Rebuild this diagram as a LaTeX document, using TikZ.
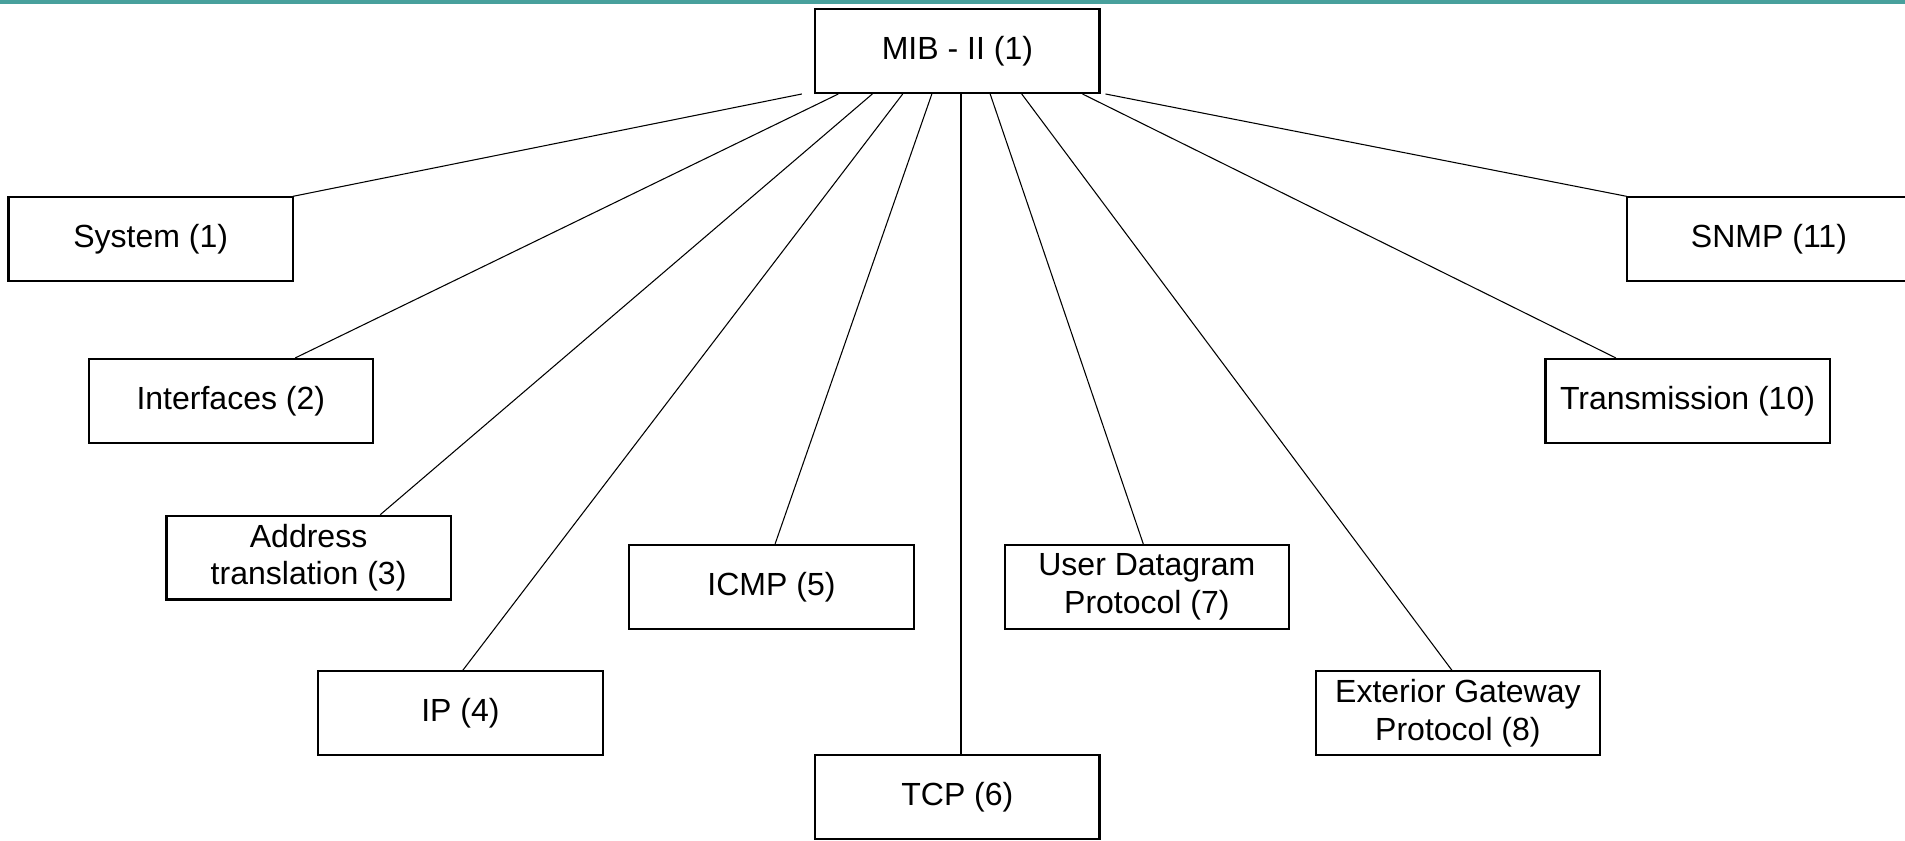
\documentclass[tikz,border=0pt]{standalone}
\usepackage{xcolor}
\usepackage{fontspec}
\setmainfont{Liberation Sans}
\usepackage{tikz}
\usetikzlibrary{shapes,positioning}
\usetikzlibrary{calc}
\definecolor{bandteal}{RGB}{72,160,156}
\tikzset{
	box/.style={draw,line width=1pt,minimum width=4.68cm,minimum height=1.38cm,inner sep=0pt,align=center,font=\fontsize{15}{17.6}\selectfont},
	branch/.style={line width=0.5pt}
}

\begin{document}
\begin{tikzpicture}[x=0.02cm,y=-0.02cm]
	\def\largeur{1568}
	\def\hauteur{692}
	\def\u{0.02cm}
\clip (0,0) rectangle (\largeur,\hauteur); % Clips the picture...
\useasboundingbox (0,0) rectangle (\largeur,\hauteur);

%Bande du haut
\fill[bandteal] (0,0) rectangle (\largeur,3);

%Racine
\node[box] (mib) at (788,42) {MIB - II (1)};

%Fils
\node[box] (sys) at (124,197) {System (1)};
\node[box] (itf) at (190,330) {Interfaces (2)};
\node[box] (at) at (254,459) {Address\\translation (3)};
\node[box] (ip) at (379,587) {IP (4)};
\node[box] (icmp) at (635,483) {ICMP (5)};
\node[box] (tcp) at (788,656) {TCP (6)};
\node[box] (udp) at (944,483) {User Datagram\\Protocol (7)};
\node[box] (egp) at (1200,587) {Exterior Gateway\\Protocol (8)};
\node[box] (trans) at (1389,330) {Transmission (10)};
\node[box] (snmp) at (1456,197) {SNMP (11)};

%Branches
\foreach \fils/\dm/\df in {sys/-128/117,itf/-98/53,at/-70/59,ip/-45/2,icmp/-21/3,tcp/3/3,udp/27/-3,egp/53/-5,trans/103/-59,snmp/122/-117}
	\draw[branch] ([xshift=\dm*\u]mib.south) -- ([xshift=\df*\u]\fils.north);

\end{tikzpicture}
\end{document}
